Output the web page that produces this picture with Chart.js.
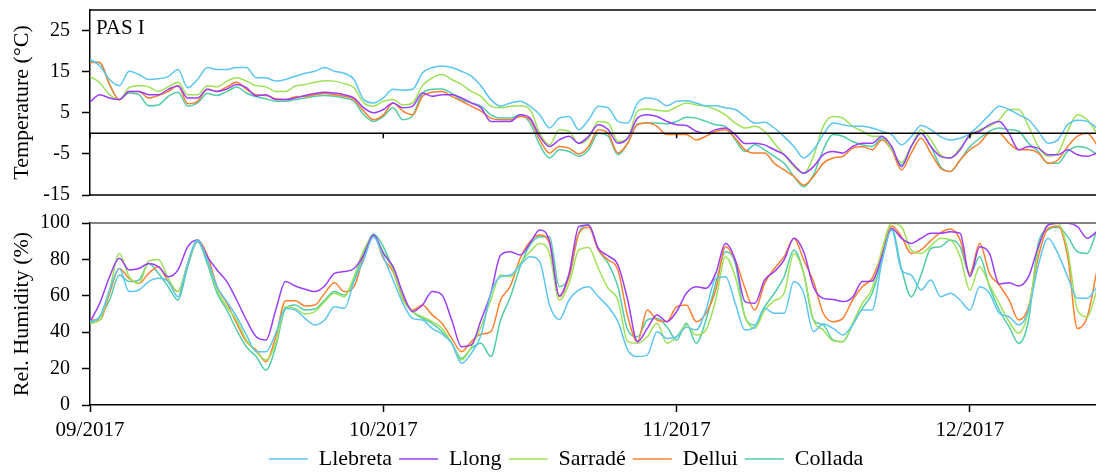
<!DOCTYPE html>
<html>
<head>
<meta charset="utf-8">
<script src="https://cdn.jsdelivr.net/npm/chart.js@4.4.1/dist/chart.umd.min.js"></script>
<style>
  html, body { margin: 0; padding: 0; background: #fff; overflow: hidden; }
  #wrap { position: relative; width: 1096px; height: 473px; overflow: hidden; }
  #wrap canvas { position: absolute; left: 0; }
  #tempChart { top: 0; }
  #humChart { top: 206px; }
</style>
</head>
<body>
<div id="wrap">
  <canvas id="tempChart" width="1132" height="206"></canvas>
  <canvas id="humChart" width="1132" height="274"></canvas>
</div>
<script>
// stations and styling
var stations = ['Llebreta', 'Llong', 'Sarradé', 'Dellui', 'Collada'];
var colors = ['#5cc6f2', '#9b3dfa', '#9de256', '#fc7f2e', '#4fcca8'];

// x axis: one point per day from 1 Sep 2017, month ticks every 30 days
var monthLabels = ['09/2017', '10/2017', '11/2017', '12/2017'];
var monthDays = [0, 30, 60, 90];
var tempTicks = [-15, -5, 5, 15, 25];

// daily temperature (°C)
var tempLlebreta = [18.0, 16.4, 13.1, 11.6, 15.1, 14.3, 13.1, 13.3, 13.8, 15.5, 11.1, 13.1, 16.0, 15.5, 15.5, 16.0, 16.0, 13.5, 13.5, 12.7,
  13.1, 13.9, 14.6, 15.1, 16.0, 15.1, 14.6, 13.1, 8.2, 7.4, 8.6, 10.7, 10.5, 10.7, 14.7, 16.0, 16.4, 16.0, 15.1, 13.9,
  11.5, 8.2, 6.6, 7.4, 7.8, 6.6, 4.5, 1.3, 3.7, 4.1, 0.9, 3.3, 6.6, 6.2, 2.9, 2.5, 7.4, 8.6, 8.2, 6.7,
  7.8, 7.9, 7.4, 6.7, 6.7, 6.2, 5.8, 4.1, 2.5, 2.7, 1.3, -0.8, -3.2, -6.0, -4.0, -0.3, 2.5, 2.1, 1.7, 1.7,
  1.3, 0.5, -0.3, -2.8, -0.8, 1.9, 0.9, -0.8, -1.6, -1.2, 0.0, 2.1, 4.5, 6.6, 5.8, 4.5, 3.3, 0.5, -2.4, -1.6,
  2.1, 3.2, 2.9, 1.3];
var tempLlong = [7.6, 9.4, 8.6, 8.2, 10.2, 10.2, 9.4, 9.4, 10.7, 11.5, 8.6, 8.6, 10.7, 10.2, 10.8, 11.9, 11.1, 9.1, 9.4, 8.2,
  8.2, 8.6, 9.2, 9.7, 10.0, 9.8, 9.4, 8.6, 6.2, 5.0, 5.8, 7.4, 6.2, 6.6, 9.8, 9.0, 9.4, 9.4, 8.6, 7.4,
  6.2, 2.9, 2.9, 2.9, 4.5, 3.7, -0.7, -3.2, -1.6, -0.7, -2.4, -0.7, 2.1, 0.9, -2.4, -1.2, 3.7, 4.5, 4.1, 2.9,
  2.1, 1.9, 0.5, 0.0, 0.9, 1.3, -0.3, -2.5, -2.4, -2.8, -4.0, -5.2, -7.7, -9.7, -8.1, -5.2, -4.4, -4.8, -3.2, -2.4,
  -2.4, -0.7, -3.2, -8.1, -3.2, 0.0, -3.2, -5.6, -6.0, -4.0, -0.3, 0.5, 2.1, 2.9, 0.0, -4.0, -3.2, -3.6, -5.2, -5.2,
  -4.0, -5.2, -5.6, -4.8];
var tempSarrade = [13.8, 12.3, 9.4, 8.2, 11.1, 11.6, 11.3, 10.2, 11.3, 12.4, 9.4, 9.4, 11.6, 11.3, 12.7, 13.5, 12.7, 11.6, 11.3, 10.2,
  10.2, 11.5, 11.9, 12.4, 12.8, 12.7, 12.1, 11.1, 7.4, 6.6, 7.8, 8.2, 6.9, 7.4, 11.6, 13.5, 14.3, 13.1, 11.9, 10.2,
  9.0, 6.6, 6.2, 6.6, 6.7, 5.8, 0.0, -2.8, 0.9, 0.5, -2.5, -1.2, 2.9, 2.5, -2.0, -1.2, 5.4, 5.9, 5.6, 5.4,
  6.4, 7.4, 6.9, 6.6, 5.8, 4.5, 2.5, 1.3, 1.7, 0.5, -2.4, -5.2, -8.1, -9.7, -5.6, 1.7, 4.1, 3.7, 1.7, 0.5,
  -0.7, -0.7, -4.0, -7.1, -3.2, 0.9, -1.6, -5.2, -6.0, -3.6, -0.7, 0.9, 1.7, 3.3, 5.8, 5.8, 1.7, -3.2, -5.6, -4.8,
  0.5, 4.5, 3.3, 0.0];
var tempDellui = [17.2, 17.2, 11.9, 8.2, 10.2, 10.2, 8.6, 9.2, 10.2, 11.6, 7.2, 7.8, 10.7, 10.2, 11.3, 12.4, 10.7, 9.4, 9.2, 8.4,
  8.2, 8.9, 9.0, 9.4, 9.7, 9.4, 9.0, 8.2, 5.4, 3.3, 4.5, 7.4, 5.4, 4.5, 9.0, 10.0, 10.2, 9.0, 7.8, 6.6,
  5.4, 3.7, 3.3, 3.3, 4.1, 3.3, -1.6, -4.8, -3.2, -3.6, -5.0, -3.2, 0.9, 0.0, -4.8, -2.4, 2.1, 2.5, 1.7, -0.3,
  -0.3, -0.3, -1.6, -0.7, 0.5, 0.9, -1.2, -4.0, -4.8, -4.8, -7.3, -8.9, -10.5, -12.6, -10.5, -7.3, -6.0, -5.6, -3.6, -3.2,
  -4.0, -1.6, -4.0, -8.9, -4.8, -1.2, -4.8, -8.5, -9.3, -6.5, -4.0, -2.4, 0.0, 0.0, -2.4, -4.0, -4.0, -4.8, -7.3, -6.5,
  -3.2, -0.7, 0.0, -2.8];
var tempCollada = [17.5, 17.2, 11.9, 8.2, 9.8, 9.4, 6.7, 6.9, 9.0, 10.0, 6.6, 7.4, 9.7, 9.2, 10.2, 11.3, 9.8, 8.9, 8.4, 7.8,
  7.8, 8.2, 8.6, 9.0, 9.2, 9.0, 8.6, 7.8, 4.5, 2.9, 4.1, 6.2, 3.3, 4.3, 9.7, 10.7, 10.8, 9.7, 8.2, 7.4,
  6.6, 4.5, 3.7, 3.7, 4.5, 2.5, -2.8, -6.0, -4.0, -4.4, -5.6, -4.0, 0.0, -0.7, -5.2, -2.4, 2.3, 2.5, 2.5, 2.3,
  2.9, 3.9, 3.7, 2.9, 2.1, 1.7, -1.6, -4.4, -2.8, -4.0, -5.6, -7.3, -10.5, -13.0, -10.1, -4.0, -0.3, -0.7, -2.0, -2.8,
  -3.2, -1.2, -4.0, -7.7, -3.2, 0.0, -3.2, -8.1, -9.3, -6.5, -3.2, -1.2, 0.5, 1.3, 0.9, 0.5, -2.4, -4.4, -7.3, -7.3,
  -4.4, -3.2, -3.6, -5.2];

// daily relative humidity (%)
var humLlebreta = [45.8, 48.5, 63.2, 75.0, 62.3, 63.2, 67.8, 69.6, 67.8, 59.5, 78.0, 90.7, 79.7, 65.0, 56.8, 48.5, 38.5, 29.3, 29.3, 39.4,
  53.0, 52.2, 47.6, 44.0, 46.7, 54.0, 53.1, 67.8, 79.7, 92.5, 81.5, 68.7, 55.9, 47.6, 46.7, 42.1, 39.0, 33.9, 22.9, 28.4,
  38.5, 61.4, 70.5, 71.4, 76.9, 81.5, 78.8, 55.0, 47.0, 57.7, 63.2, 65.0, 59.5, 54.0, 45.8, 30.2, 26.6, 27.5, 40.3, 36.6,
  37.5, 42.7, 41.2, 52.2, 69.6, 70.5, 55.9, 41.2, 43.0, 53.1, 50.4, 50.4, 67.8, 61.4, 40.3, 44.5, 42.1, 38.5, 44.0, 52.2,
  52.2, 78.8, 96.2, 74.2, 71.4, 63.2, 68.7, 59.5, 61.4, 57.7, 52.2, 65.0, 61.4, 50.4, 48.5, 44.0, 52.2, 76.9, 91.6, 83.3,
  70.5, 58.6, 58.6, 65.0];
var humLlong = [45.8, 55.9, 70.5, 80.6, 74.2, 75.0, 77.8, 76.0, 70.5, 74.2, 87.0, 90.7, 81.5, 74.2, 67.8, 57.7, 46.7, 37.5, 35.7, 52.2,
  67.8, 65.4, 63.6, 62.3, 65.4, 72.3, 73.3, 75.0, 82.4, 93.4, 83.3, 76.0, 61.4, 51.3, 54.9, 62.3, 60.4, 46.7, 32.0, 33.0,
  46.7, 61.4, 82.4, 84.2, 82.4, 88.8, 96.2, 90.0, 60.0, 72.3, 98.0, 98.9, 86.0, 81.9, 76.9, 57.7, 34.8, 42.1, 49.5, 45.8,
  51.3, 61.4, 65.0, 64.1, 72.3, 88.8, 79.7, 56.8, 55.9, 68.7, 73.3, 79.7, 91.6, 84.2, 65.0, 58.6, 58.0, 56.8, 59.2, 67.8,
  68.1, 81.5, 97.0, 91.6, 88.8, 91.6, 94.3, 94.3, 95.2, 94.3, 70.5, 87.0, 83.3, 66.5, 67.2, 65.4, 70.5, 87.0, 98.9, 99.8,
  99.8, 98.0, 91.6, 95.2];
var humSarrade = [44.9, 46.7, 63.2, 83.3, 70.5, 66.8, 79.0, 80.0, 69.6, 62.3, 77.8, 90.7, 79.7, 63.2, 54.0, 46.7, 35.7, 29.3, 24.7, 33.9,
  54.0, 53.1, 50.0, 51.3, 56.8, 61.4, 59.5, 70.5, 85.2, 92.5, 84.2, 74.2, 57.7, 51.3, 48.5, 45.8, 42.1, 33.9, 24.7, 32.0,
  43.0, 57.7, 71.4, 70.5, 77.8, 84.2, 88.8, 83.3, 57.7, 66.8, 85.2, 86.6, 75.0, 64.1, 57.7, 34.8, 33.9, 37.5, 44.9, 33.9,
  37.5, 44.0, 38.5, 41.2, 57.7, 81.5, 70.5, 48.5, 42.1, 52.2, 57.3, 61.4, 83.3, 72.3, 46.7, 41.2, 35.3, 34.8, 44.9, 55.9,
  64.1, 85.2, 99.8, 98.0, 85.0, 83.3, 87.4, 91.6, 90.7, 81.5, 63.2, 76.0, 65.9, 55.9, 45.8, 39.4, 52.2, 85.2, 98.9, 99.8,
  85.2, 52.2, 48.5, 63.2];
var humDellui = [46.7, 46.7, 61.4, 75.0, 69.6, 66.8, 72.3, 76.0, 67.8, 62.3, 77.8, 90.7, 82.4, 65.0, 55.9, 44.9, 34.8, 30.2, 23.8, 37.5,
  57.3, 57.3, 54.4, 54.9, 61.4, 67.2, 62.3, 65.0, 81.5, 93.4, 80.6, 73.3, 58.6, 52.2, 54.9, 49.5, 44.9, 36.6, 29.3, 34.8,
  39.0, 40.3, 57.7, 65.4, 80.6, 89.7, 93.4, 88.8, 59.5, 70.5, 94.3, 97.6, 85.2, 79.7, 74.2, 48.5, 34.8, 52.2, 46.7, 45.8,
  54.0, 54.9, 45.8, 50.4, 63.2, 87.0, 79.7, 64.1, 52.2, 66.8, 75.0, 81.5, 91.6, 79.7, 67.8, 50.4, 45.8, 47.6, 57.7, 65.0,
  69.6, 83.3, 98.4, 92.5, 83.3, 85.2, 90.3, 94.7, 96.7, 90.7, 72.3, 88.8, 72.3, 65.9, 57.7, 46.7, 54.0, 81.5, 97.0, 98.4,
  81.5, 42.0, 48.5, 74.0];
var humCollada = [44.9, 48.5, 57.7, 71.4, 67.8, 68.7, 77.8, 72.3, 65.0, 57.7, 76.0, 89.7, 77.8, 61.4, 52.2, 41.2, 32.0, 26.6, 19.2, 32.0,
  53.0, 54.9, 52.2, 52.7, 57.7, 62.3, 60.4, 68.7, 83.3, 94.0, 87.0, 74.2, 59.5, 51.3, 47.6, 44.9, 40.3, 33.9, 25.6, 31.1,
  33.9, 26.6, 46.7, 59.5, 76.0, 87.9, 92.5, 92.5, 65.0, 70.5, 94.3, 98.9, 85.2, 77.8, 65.0, 41.2, 37.5, 46.7, 47.6, 43.0,
  35.7, 44.9, 33.9, 46.7, 66.8, 84.2, 77.8, 48.5, 44.0, 54.0, 61.4, 70.5, 85.2, 72.3, 46.7, 44.0, 35.7, 34.8, 44.0, 53.1,
  61.4, 79.7, 97.0, 75.0, 59.5, 71.4, 86.0, 87.0, 90.7, 87.0, 71.4, 81.5, 65.0, 52.2, 43.0, 33.9, 46.7, 88.8, 96.2, 97.6,
  92.5, 84.2, 83.3, 96.2];

var days = tempLlebreta.map(function (v, i) { return i; });
var tempSeries = [tempLlebreta, tempLlong, tempSarrade, tempDellui, tempCollada];
var humSeries = [humLlebreta, humLlong, humSarrade, humDellui, humCollada];

Chart.defaults.font.family = "'Liberation Serif', 'Times New Roman', serif";
Chart.defaults.color = '#000';

function makeSets(series) {
  return stations.map(function (name, i) {
    return {
      label: name,
      data: series[i],
      borderColor: colors[i],
      backgroundColor: colors[i],
      borderWidth: 1.5,
      pointRadius: 0,
      cubicInterpolationMode: 'monotone',
      fill: false
    };
  });
}

function xAxis(show) {
  return {
    type: 'linear',
    min: 0,
    max: 106.58,
    display: show,
    afterBuildTicks: function (s) { s.ticks = monthDays.map(function (v) { return { value: v }; }); },
    ticks: {
      autoSkip: false, maxRotation: 0, padding: 6, font: { size: 21 },
      callback: function (v) { return monthLabels[monthDays.indexOf(v)]; }
    },
    grid: { drawOnChartArea: false, tickLength: 7, tickColor: '#000', tickWidth: 1.5 },
    border: { color: '#000', width: 1.5 },
    afterFit: function (s) {
      s.height = show ? 36 : 0;
      s.paddingLeft = 0;
      s.paddingRight = 0;
    }
  };
}

function yAxis(min, max, title, fixedTicks) {
  return {
    min: min,
    max: max,
    afterBuildTicks: function (s) {
      if (fixedTicks) s.ticks = fixedTicks.map(function (v) { return { value: v }; });
    },
    ticks: { stepSize: 20, padding: 12, font: { size: 20 } },
    grid: { drawOnChartArea: false, tickLength: 8, tickColor: '#000', tickWidth: 1.5 },
    border: { color: '#000', width: 1.5 },
    title: { display: true, text: title, font: { size: 22 }, padding: { top: 9, bottom: 0 } },
    afterFit: function (s) {
      s.width = 90;
      s.paddingTop = 0;
      s.paddingBottom = 0;
    }
  };
}

// frame lines, zero line and panel label
var panelFrame = {
  id: 'panelFrame',
  afterDatasetsDraw: function (chart, args, opts) {
    var a = chart.chartArea, ctx = chart.ctx;
    ctx.save();
    ctx.lineWidth = 1.5;
    ctx.strokeStyle = opts.topColor;
    ctx.beginPath();
    ctx.moveTo(a.left, a.top);
    ctx.lineTo(a.right, a.top);
    ctx.stroke();
    if (opts.zeroLine) {
      ctx.strokeStyle = '#000';
      var y0 = chart.scales.y.getPixelForValue(0);
      ctx.beginPath();
      ctx.moveTo(a.left, y0);
      ctx.lineTo(a.right, y0);
      ctx.moveTo(a.left, a.bottom);
      ctx.lineTo(a.right, a.bottom);
      monthDays.forEach(function (d) {
        var x = chart.scales.x.getPixelForValue(d);
        ctx.moveTo(x, y0);
        ctx.lineTo(x, y0 + 5);
      });
      ctx.stroke();
    }
    if (opts.label) {
      ctx.fillStyle = '#000';
      ctx.font = "21px 'Liberation Serif', serif";
      ctx.textBaseline = 'middle';
      ctx.fillText(opts.label, a.left + 6, a.top + 18);
    }
    ctx.restore();
  }
};

new Chart(document.getElementById('tempChart'), {
  type: 'line',
  data: { labels: days, datasets: makeSets(tempSeries) },
  plugins: [panelFrame],
  options: {
    responsive: false,
    animation: false,
    layout: { padding: { top: 10, bottom: 11, left: 0, right: 0 } },
    scales: {
      x: xAxis(false),
      y: yAxis(-15, 30, 'Temperature (°C)', tempTicks)
    },
    plugins: {
      legend: { display: false },
      tooltip: { enabled: false },
      panelFrame: { topColor: '#000', zeroLine: true, label: 'PAS I' }
    }
  }
});

new Chart(document.getElementById('humChart'), {
  type: 'line',
  data: { labels: days, datasets: makeSets(humSeries) },
  plugins: [panelFrame],
  options: {
    responsive: false,
    animation: false,
    layout: { padding: { top: 17, bottom: 0, left: 0, right: 0 } },
    scales: {
      x: xAxis(true),
      y: yAxis(0, 100, 'Rel. Humidity (%)', null)
    },
    plugins: {
      legend: {
        position: 'bottom',
        labels: {
          usePointStyle: true,
          pointStyle: 'line',
          pointStyleWidth: 39,
          padding: 7,
          font: { size: 22 },
          color: '#000'
        }
      },
      tooltip: { enabled: false },
      panelFrame: { topColor: '#5a5a5a', zeroLine: false, label: '' }
    }
  }
});
</script>
</body>
</html>
